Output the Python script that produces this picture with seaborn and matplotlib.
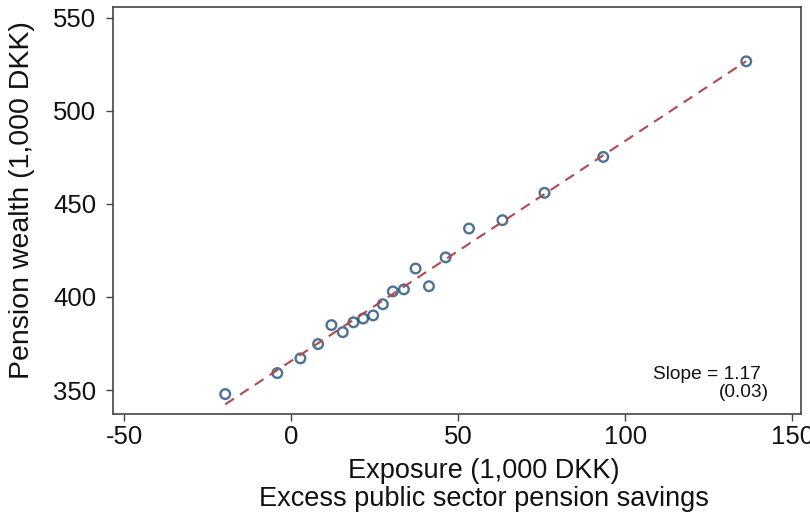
import matplotlib
matplotlib.use("Agg")
import matplotlib.pyplot as plt
import seaborn as sns
import pandas as pd

exposure = [-19.8, -4.2, 2.7, 8.0, 12.0, 15.4, 18.6, 21.5, 24.5, 27.4, 30.4, 33.7, 37.2, 41.2, 46.2, 53.2, 63.2, 75.8, 93.4, 136.2]
wealth = [347.8, 359.1, 367.0, 374.7, 384.9, 381.1, 386.4, 388.4, 390.1, 396.1, 403.0, 404.1, 415.3, 405.8, 421.3, 436.8, 441.3, 456.0, 475.3, 526.7]

xticks = [-50, 0, 50, 100, 150]
yticks = [350, 400, 450, 500, 550]

df = pd.DataFrame({"exposure": exposure, "wealth": wealth})

sns.set_style("white")
plt.rcParams["font.family"] = ["Liberation Sans", "DejaVu Sans"]
plt.rcParams["axes.unicode_minus"] = False

fig = plt.figure(figsize=(8.10, 5.17), dpi=100)
ax = fig.add_axes([113/810, 1-414/517, (801-113)/810, (414-7)/517])

sns.regplot(data=df, x="exposure", y="wealth", ax=ax, ci=None,
            scatter_kws=dict(s=48, facecolors="none", edgecolors="#1f4f7d", linewidths=1.7),
            line_kws=dict(color="#b5484a", linestyle=(0, (5, 3.5)), linewidth=1.5))

ax.set_xlim(-53.4, 152.6)
ax.set_ylim(337.1, 555.9)
ax.set_xticks(xticks)
ax.set_yticks(yticks)
ax.tick_params(axis="both", which="both", direction="out", length=5, width=1,
               color="#444444", labelsize=18.5, labelcolor="#111111", pad=3,
               bottom=True, left=True)
ax.tick_params(axis="y", pad=7)
for s in ax.spines.values():
    s.set_color("#444444")
    s.set_linewidth(1.2)

ax.set_xlabel("Exposure (1,000 DKK)\nExcess public sector pension savings", fontsize=19.5,
              color="#111111", labelpad=8, linespacing=1.12)
ax.xaxis.set_label_coords(0.539, -0.107)
ax.xaxis.label.set_va("top")
ax.set_ylabel("Pension wealth (1,000 DKK)", fontsize=20.5, color="#111111", labelpad=13)
ax.yaxis.label.set_y(0.526)

ax.text(0.941, 0.098, "Slope = 1.17", transform=ax.transAxes, ha="right", va="center",
        fontsize=13.8, color="#111111")
ax.text(0.953, 0.053, "(0.03)", transform=ax.transAxes, ha="right", va="center",
        fontsize=13.8, color="#111111")

fig.savefig("out.png", dpi=100)
